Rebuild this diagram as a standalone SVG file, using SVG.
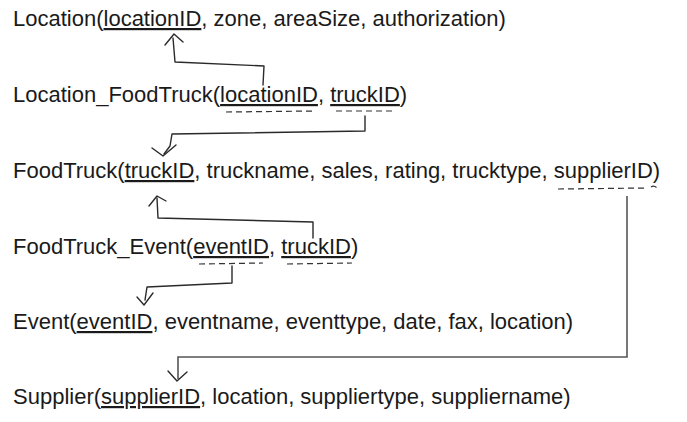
<svg xmlns="http://www.w3.org/2000/svg" width="687" height="422" viewBox="0 0 687 422">
<style>
  text { font-family: "Liberation Sans", Arial, sans-serif; font-size: 22px; fill: #1a1a1a; }
  .pk { text-decoration: underline; }
  .con { fill: none; stroke: #2a2a2a; stroke-width: 1.4; stroke-linecap: round; stroke-linejoin: round; }
  .fk { fill: none; stroke: #333; stroke-width: 1.2; stroke-dasharray: 6 4; }
  .long { fill: none; stroke: #555; stroke-width: 1.6; }
</style>
<rect width="687" height="422" fill="#fff"/>
<g id="Location">
  <text x="13" y="26">Location(<tspan class="pk">locationID</tspan>, zone, areaSize, authorization)</text>
</g>
<g id="Location_FoodTruck">
  <text x="13" y="102">Location_FoodTruck(<tspan class="pk">locationID</tspan>, <tspan class="pk">truckID</tspan>)</text>
  <path class="fk" d="M226,112 L315,111"/>
  <path class="fk" d="M336,111 L394,111"/>
</g>
<g id="FoodTruck">
  <text x="13" y="178">FoodTruck(<tspan class="pk">truckID</tspan>, truckname, sales, rating, trucktype, supplierID)</text>
  <path class="fk" d="M558,189 L648,188"/>
  <path class="fk" d="M651,187 q3,-2 6,1"/>
</g>
<g id="FoodTruck_Event">
  <text x="13" y="254">FoodTruck_Event(<tspan class="pk">eventID</tspan>, <tspan class="pk">truckID</tspan>)</text>
  <path class="fk" d="M199,264 L263,263"/>
  <path class="fk" d="M287,264 L352,263" stroke-dasharray="4 4"/>
</g>
<g id="Event">
  <text x="13" y="329">Event(<tspan class="pk">eventID</tspan>, eventname, eventtype, date, fax, location)</text>
</g>
<g id="Supplier">
  <text x="13" y="404">Supplier(<tspan class="pk">supplierID</tspan>, location, suppliertype, suppliername)</text>
</g>
<g id="connectors">
  <path class="con" d="M263,85 L264,66 L175,62 L173,38"/>
  <path class="con" d="M165,45 L174,34 L183,42"/>
  <path class="con" d="M365,116 L365,131 L172,134 L170,146 L164,154"/>
  <path class="con" d="M152,148 L163,156 L176,145"/>
  <path class="con" d="M313,238 L313,222 L158,218 L157,198"/>
  <path class="con" d="M149,206 L157,196 L166,201"/>
  <path class="con" d="M232,266 L232,283 L147,287 L145,300"/>
  <path class="con" d="M137,297 L144,305 L153,293"/>
  <path class="long" d="M627,196 L627,357 L178,357 L178,379"/>
  <path class="con" d="M168,371 L177,381 L187,372"/>
</g>
</svg>
